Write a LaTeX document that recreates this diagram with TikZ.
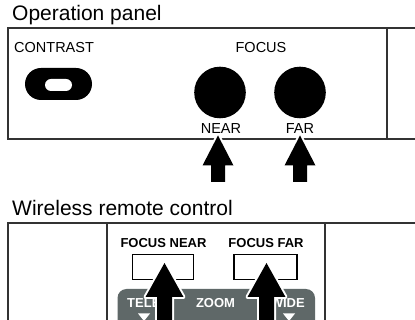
\documentclass[tikz,border=0pt]{standalone}
\usepackage{fontspec}
\setmainfont{Liberation Sans}
\definecolor{linegray}{HTML}{333333}
\definecolor{zonegray}{HTML}{5F6868}
\newcommand{\fatarrow}[6]{%
  \fill[fatarr] (#1,#2) -- (#1+#3,#2+#4) -- (#1+#5,#2+#4) -- (#1+#5,#6)
    -- (#1-#5,#6) -- (#1-#5,#2+#4) -- (#1-#3,#2+#4) -- cycle;}
\begin{document}
\begin{tikzpicture}[x=1pt,y=-1pt,
  frame/.style={draw=linegray,line width=1.3pt},
  title/.style={inner sep=0pt,anchor=base west,font=\fontsize{21}{21}\selectfont},
  lbl/.style={inner sep=0pt,anchor=base,font=\fontsize{14.5}{14.5}\selectfont},
  blbl/.style={inner sep=0pt,anchor=base,font=\fontsize{13}{13}\selectfont\bfseries},
  wlbl/.style={blbl,text=white},
  btn/.style={draw=black,line width=1.2pt,fill=white},
  fatarr/.style={fill=black,preaction={draw=white,line width=4pt,line join=round}}]
\useasboundingbox (0,0) rectangle (415,320);
\fill[white] (0,0) rectangle (415,320);
% ---------- Operation panel ----------
\node[title] (t1) at (12,21) {Operation panel};
\draw[frame] (415,28) -- (8,28) -- (8,139) -- (415,139);
\draw[frame] (387,28) -- (387,139);
\node[lbl,anchor=base west] (contrast) at (14,53) {CONTRAST};
\fill[black,rounded corners=16pt] (25,68) rectangle (92,100);
\fill[white,rounded corners=6pt] (45,79) rectangle (72,91);
\node[lbl] (focus) at (261,53) {FOCUS};
\fill[black] (220,92.5) circle (25.8);
\fill[black] (300,92.5) circle (25.8);
\node[lbl] (near) at (221,134) {NEAR};
\node[lbl] (far) at (300,134) {FAR};
\fatarrow{218}{135.5}{15.5}{30}{7}{182}
\fatarrow{300}{135.5}{15.5}{30}{7}{182}
% ---------- Wireless remote control ----------
\node[title] (t2) at (12,216) {Wireless remote control};
\draw[frame] (415,223) -- (8,223) -- (8,322);
\draw[frame] (107,223) -- (107,322);
\draw[frame] (325,223) -- (325,322);
\node[blbl] (fnear) at (163.5,248) {FOCUS NEAR};
\node[blbl] (ffar) at (266,248) {FOCUS FAR};
\draw[btn] (132.7,254.5) rectangle (193.3,279.5);
\draw[btn] (234,254.5) rectangle (297,279.5);
\fill[zonegray,rounded corners=9pt] (117.5,289) rectangle (315,335);
\node[wlbl,anchor=base west] (tel) at (127,308) {TELE};
\node[wlbl] (zoom) at (215.5,308) {ZOOM};
\node[wlbl,anchor=base east] (wide) at (305,308) {WIDE};
\fill[white] (138,313.5) -- (150,313.5) -- (144,321) -- cycle;
\fill[white] (283,313.5) -- (295,313.5) -- (289,321) -- cycle;
\fatarrow{164.5}{263}{19}{34}{7.5}{330}
\fatarrow{266.5}{263}{19}{34}{7.5}{330}
\end{tikzpicture}
\end{document}
